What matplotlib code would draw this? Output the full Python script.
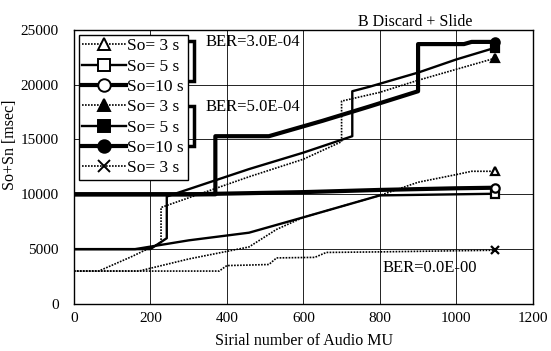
import matplotlib
matplotlib.use('Agg')
import matplotlib.pyplot as plt
from matplotlib.lines import Line2D

plt.rcParams['font.family'] = ['Liberation Serif', 'DejaVu Serif']

# BER = 3.0E-04 (open markers)
x_o3 = [0, 170, 300, 458, 530, 600, 700, 800, 900, 1000, 1040, 1100]
y_o3 = [3000, 3000, 4100, 5200, 6800, 7900, 8900, 9900, 11100, 11800, 12100, 12100]
x_o5 = [0, 160, 300, 458, 600, 700, 800, 900, 1000, 1100]
y_o5 = [5000, 5000, 5800, 6500, 7900, 8900, 9900, 9950, 10000, 10050]
x_o10 = [0, 300, 600, 800, 1000, 1100]
y_o10 = [10000, 10000, 10200, 10400, 10550, 10600]

# BER = 5.0E-04 (filled markers)
x_f3 = [0, 65, 150, 228, 228, 458, 600, 700, 700, 800, 900, 1000, 1100]
y_f3 = [3000, 3000, 4300, 5600, 8800, 11600, 13200, 14800, 18500, 19300, 20400, 21400, 22400]
x_f5 = [0, 200, 243, 243, 458, 600, 728, 728, 772, 900, 1000, 1100]
y_f5 = [5000, 5000, 6000, 9800, 12300, 13800, 15300, 19400, 19800, 21100, 22300, 23350]
x_f10 = [0, 370, 370, 510, 650, 772, 900, 900, 1020, 1040, 1100]
y_f10 = [10000, 10000, 15300, 15300, 16700, 18000, 19400, 23700, 23700, 23900, 23900]

# BER = 0.0E-00
x_b0 = [0, 380, 400, 460, 510, 530, 630, 660, 800, 1000, 1100]
y_b0 = [3000, 3000, 3500, 3550, 3600, 4200, 4250, 4700, 4750, 4850, 4900]

labels = ['So= 3 s', 'So= 5 s', 'So=10 s', 'So= 3 s', 'So= 5 s', 'So=10 s', 'So= 3 s']

fig = plt.figure(figsize=(5.51, 3.51), dpi=100)
ax = fig.add_axes([0.134, 0.134, 0.833, 0.781])

dots = (0, (1, 0.8))
series = [
    (x_o3, y_o3, '^', 'white', 1.2, dots),
    (x_o5, y_o5, 's', 'white', 1.7, '-'),
    (x_o10, y_o10, 'o', 'white', 3.0, '-'),
    (x_f3, y_f3, '^', 'black', 1.2, dots),
    (x_f5, y_f5, 's', 'black', 1.7, '-'),
    (x_f10, y_f10, 'o', 'black', 3.0, '-'),
    (x_b0, y_b0, 'x', 'black', 1.2, dots),
]

handles = []
for xs, ys, m, fc, lw, ls in series:
    ax.plot(xs, ys, color='black', lw=lw, ls=ls, zorder=3)
    ax.plot(xs[-1], ys[-1], marker=m, ms=6, mfc=fc, mec='black', mew=1.6,
            color='black', zorder=4)
    handles.append(Line2D([0], [0], color='black', lw=lw, ls=ls, marker=m,
                          ms=9, mfc=fc, mec='black', mew=1.4))

ax.set_xlim(0, 1200)
ax.set_ylim(0, 25000)
ax.set_xticks(range(0, 1201, 200))
ax.set_yticks(range(0, 25001, 5000))
ax.grid(True, color='black', lw=0.6)
ax.set_axisbelow(True)
ax.tick_params(length=0, labelsize=11)
ax.tick_params(axis='y', pad=11)
ax.tick_params(axis='x', pad=6)
for s in ax.spines.values():
    s.set_linewidth(1.0)

ax.set_xlabel('Sirial number of Audio MU', fontsize=11.5)
ax.xaxis.set_label_coords(0.501, -0.105)
ax.set_ylabel('So+Sn [msec]', fontsize=11.5)
ax.yaxis.set_label_coords(-0.122, 0.58)

leg = ax.legend(handles, labels, loc='upper left', bbox_to_anchor=(0.011, 0.982),
                borderaxespad=0, fontsize=12.5, handlelength=2.5, handletextpad=0.1,
                labelspacing=0.24, borderpad=0.2, frameon=True, fancybox=False)
leg.get_frame().set_edgecolor('black')
leg.get_frame().set_linewidth(1.0)
leg.get_frame().set_alpha(1)

# brackets for BER groups
for top, bot in [(24000, 20330), (18040, 14380)]:
    ax.plot([288, 314, 314, 288], [top, top, bot, bot], color='black', lw=2.5,
            solid_joinstyle='miter', zorder=5)
ax.text(345, 23900, 'BER=3.0E-04', fontsize=12, va='center', ha='left')
ax.text(345, 17950, 'BER=5.0E-04', fontsize=12, va='center', ha='left')
ax.text(930, 3300, 'BER=0.0E-00', fontsize=12, va='center', ha='center')
ax.text(0.743, 1.03, 'B Discard + Slide', transform=ax.transAxes, fontsize=11.5,
        ha='center', va='center')

fig.savefig('out.png', dpi=100)
